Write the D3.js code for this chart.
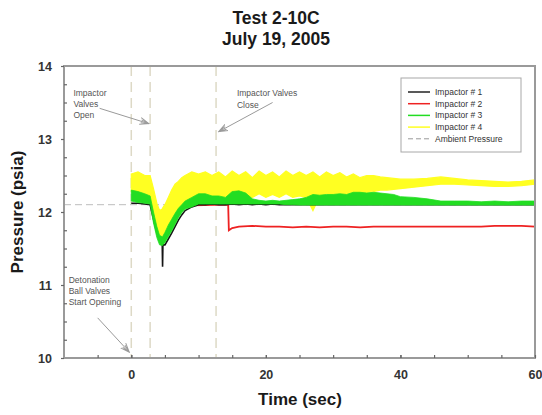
<!DOCTYPE html>
<html><head><meta charset="utf-8">
<script src="https://cdn.jsdelivr.net/npm/d3@7"></script>
<style>
body{margin:0;background:#fff}
svg{display:block}
text{font-family:"Liberation Sans",Arial,Helvetica,sans-serif}
</style>
</head><body>
<svg id="c" width="542" height="415"></svg>
<script>
// ---------- data ----------
const titleLines = ["Test 2-10C", "July 19, 2005"];
const xTitle = "Time (sec)";
const yTitle = "Pressure (psia)";
const xTicks = [0, 20, 40, 60];
const xMinor = [-5, 0, 5, 10, 15, 20, 25, 30, 35, 40, 45, 50, 55];
const yTicks = [10, 11, 12, 13, 14];
const yMinor = [10.25,10.5,10.75,11.25,11.5,11.75,12.25,12.5,12.75,13.25,13.5,13.75];

const time = [0,1,2,2.8,3.3,3.8,4.2,4.6,4.65,4.7,5,5.5,6,6.5,7,7.5,8,
  9,10,11,12,13,14,15,16,17,18,19,20,21,22,23,24,
  25,26,27,28,29,30,31,32,33,34,35,36,37,38,39,40,
  42,44,46,48,50,52,54,56,58,60];

// Impactor #4 (yellow) envelope
const imp4Hi = [12.52,12.55,12.5,12.5,12.32,12.12,12.02,12.04,12.05,12.06,12.1,12.2,12.3,12.38,12.42,12.47,12.5,
  12.55,12.52,12.55,12.5,12.55,12.48,12.56,12.5,12.55,12.47,12.56,12.5,12.55,12.48,12.56,12.5,
  12.55,12.5,12.55,12.48,12.55,12.5,12.54,12.48,12.52,12.47,12.5,12.5,12.48,12.47,12.46,12.45,
  12.45,12.46,12.48,12.46,12.44,12.43,12.42,12.41,12.42,12.44];
const imp4Lo = [12.28,12.25,12.25,12.2,11.95,11.75,11.63,11.6,11.6,11.61,11.65,11.75,11.85,11.95,12.0,12.05,12.1,
  12.15,12.2,12.2,12.2,12.22,12.2,12.24,12.18,12.22,12.2,12.25,12.2,12.24,12.2,12.25,12.2,
  12.22,12.2,12.02,12.22,12.25,12.22,12.25,12.24,12.26,12.25,12.27,12.28,12.3,12.3,12.31,12.32,
  12.34,12.36,12.38,12.38,12.37,12.36,12.35,12.35,12.36,12.38];

// Impactor #3 (green) envelope
const imp3Hi = [12.3,12.28,12.25,12.22,12.0,11.8,11.68,11.66,11.66,11.67,11.72,11.82,11.9,11.98,12.05,12.1,12.15,
  12.2,12.25,12.25,12.22,12.22,12.2,12.28,12.29,12.26,12.18,12.16,12.15,12.16,12.15,12.16,12.17,
  12.18,12.2,12.24,12.23,12.24,12.24,12.25,12.24,12.27,12.27,12.26,12.27,12.26,12.25,12.24,12.21,
  12.2,12.18,12.15,12.15,12.15,12.14,12.15,12.14,12.15,12.15];
const imp3Lo = [12.15,12.13,12.12,12.11,11.85,11.65,11.55,11.54,11.54,11.55,11.58,11.66,11.74,11.83,11.92,11.99,12.04,
  12.07,12.11,12.11,12.11,12.11,12.11,12.11,12.11,12.11,12.11,12.11,12.11,12.11,12.11,12.1,12.1,
  12.095,12.095,12.095,12.095,12.095,12.095,12.095,12.095,12.095,12.095,12.095,12.095,12.095,12.095,12.095,12.095,
  12.095,12.095,12.095,12.095,12.095,12.095,12.095,12.095,12.095,12.095];

// Impactor #1 (black)
const imp1 = [12.12,12.12,12.11,12.1,11.9,11.72,11.6,11.55,11.25,11.55,11.55,11.63,11.71,11.8,11.89,11.96,12.02,
  12.07,12.1,12.1,12.11,12.1,12.1,12.11,12.1,12.11,12.1,12.11,12.1,12.11,12.1,12.1,12.1,
  12.1,12.1,12.1,12.1,12.1,12.1,12.1,12.1,12.1,12.1,12.1,12.1,12.1,12.1,12.1,12.1,
  12.1,12.1,12.1,12.1,12.1,12.1,12.1,12.1,12.1,12.1];

// Impactor #2 (red)
const imp2Time = [9,14.4,14.5,15,16,18,20,22,24,26,28,30,32,34,36,38,40,42,44,46,48,50,52,54,56,58,60];
const imp2 = [12.09,12.1,11.75,11.78,11.8,11.81,11.8,11.8,11.79,11.8,11.79,11.8,11.8,11.79,11.8,11.8,11.8,
  11.8,11.8,11.8,11.8,11.8,11.8,11.81,11.81,11.81,11.8];

const ambient = 12.1;
const eventTimes = [0, 2.8, 12.6];
const legendNames = ["Impactor # 1","Impactor # 2","Impactor # 3","Impactor # 4","Ambient Pressure"];
const legendColors = ["#222222","#ee2222","#22dd22","#ffff22","#999999"];

// annotations: text lines at (time, pressure), arrows from -> to
const notes = [
  {t:-8.6, p:[13.59,13.44,13.29], lines:["Impactor","Valves","Open"], from:[-4.7,13.42], to:[2.6,13.21]},
  {t:15.7, p:[13.59,13.43], lines:["Impactor Valves","Close"], from:[21,13.5], to:[13.0,13.1]},
  {t:-9.3, p:[11.03,10.88,10.73], lines:["Detonation","Ball Valves","Start Opening"], from:[-5.0,10.55], to:[-0.3,10.08]}
];

// ---------- drawing ----------
const svg = d3.select("#c");
const L = 64, R = 535, T = 66, B = 358;
const x = d3.scaleLinear().domain([-10, 60]).range([L, R]);
const y = d3.scaleLinear().domain([10, 14]).range([B, T]);

svg.append("defs").append("clipPath").attr("id","clip")
  .append("rect").attr("x",L).attr("y",T).attr("width",R-L).attr("height",B-T);
svg.select("defs").append("marker").attr("id","arr")
  .attr("viewBox","0 -5 10 10").attr("refX",9).attr("refY",0)
  .attr("markerWidth",10).attr("markerHeight",10).attr("markerUnits","userSpaceOnUse")
  .attr("orient","auto")
  .append("path").attr("d","M0,-3.5L9,0L0,3.5M1,-1.5L9,0L1,1.5").attr("fill","none").attr("stroke","#9a9a9a").attr("stroke-width",1);

// title
svg.append("g").selectAll("text").data(titleLines).join("text")
  .attr("x", 276).attr("y", (d,i)=> 24 + i*21)
  .attr("text-anchor","middle").attr("font-size","17.5px").attr("font-weight","bold").attr("fill","#1a1a1a")
  .text(d=>d);

// reference lines
const plot = svg.append("g").attr("clip-path","url(#clip)");
plot.selectAll("line.ev").data(eventTimes).join("line").attr("class","ev")
  .attr("x1",d=>x(d)).attr("x2",d=>x(d)).attr("y1",T).attr("y2",B)
  .attr("stroke","#ddd9c6").attr("stroke-width",1.5).attr("stroke-dasharray","10,6");
plot.append("line").attr("x1",x(-10)).attr("x2",x(60)).attr("y1",y(ambient)).attr("y2",y(ambient))
  .attr("stroke","#bdbdbd").attr("stroke-width",1).attr("stroke-dasharray","7,4");

// series
const band = (hi, lo) => d3.area().x((d,i)=>x(time[i])).y0((d,i)=>y(lo[i])).y1((d,i)=>y(hi[i]))(time);
plot.append("path").attr("d", band(imp4Hi, imp4Lo)).attr("fill","#ffff22").attr("stroke","#ffff22").attr("stroke-width",1.2);
plot.append("path").attr("d", d3.line().x((d,i)=>x(imp2Time[i])).y(d=>y(d))(imp2))
  .attr("fill","none").attr("stroke","#ee2222").attr("stroke-width",1.8);
plot.append("path").attr("d", d3.line().x((d,i)=>x(time[i])).y(d=>y(d))(imp1))
  .attr("fill","none").attr("stroke","#151515").attr("stroke-width",1.6);
plot.append("path").attr("d", band(imp3Hi, imp3Lo)).attr("fill","#22dd22").attr("stroke","#22dd22").attr("stroke-width",0.8);

// frame
svg.append("rect").attr("x",L).attr("y",T).attr("width",R-L).attr("height",B-T)
  .attr("fill","none").attr("stroke","#9a9a9a").attr("stroke-width",2);

// axes
const gx = svg.append("g").attr("transform",`translate(0,${B})`)
  .call(d3.axisBottom(x).tickValues(xTicks).tickSize(-3).tickPadding(12).tickFormat(d3.format("d")));
svg.append("g").attr("transform",`translate(0,${B})`)
  .call(d3.axisBottom(x).tickValues(xMinor).tickSize(-3).tickFormat(""));
const gy = svg.append("g").attr("transform",`translate(${L},0)`)
  .call(d3.axisLeft(y).tickValues(yTicks).tickSize(3).tickPadding(9).tickFormat(d3.format("d")));
svg.append("g").attr("transform",`translate(${L},0)`)
  .call(d3.axisLeft(y).tickValues(yMinor).tickSize(-3).tickFormat(""));
svg.selectAll(".domain").remove();
svg.selectAll(".tick line").attr("stroke","#666").attr("stroke-width",1.2);
[gx, gy].forEach(g => g.selectAll("text").attr("font-size","12.5px").attr("font-weight","bold").attr("fill","#333")
  .attr("font-family","'Liberation Sans',Arial,sans-serif"));

// axis titles
svg.append("text").attr("x",300).attr("y",405).attr("text-anchor","middle")
  .attr("font-size","17px").attr("font-weight","bold").attr("fill","#1a1a1a").text(xTitle);
svg.append("text").attr("transform","translate(23,212) rotate(-90)").attr("text-anchor","middle")
  .attr("font-size","17px").attr("font-weight","bold").attr("fill","#1a1a1a").text(yTitle);

// annotations
const an = svg.append("g");
notes.forEach(n => {
  n.lines.forEach((s,i) => an.append("text").attr("x",x(n.t)).attr("y",y(n.p[i]))
    .attr("font-size","8.5px").attr("fill","#555").text(s));
  an.append("line").attr("x1",x(n.from[0])).attr("y1",y(n.from[1]))
    .attr("x2",x(n.to[0])).attr("y2",y(n.to[1]))
    .attr("stroke","#9a9a9a").attr("stroke-width",1).attr("marker-end","url(#arr)");
});

// legend
const lg = svg.append("g");
lg.append("rect").attr("x",401).attr("y",78).attr("width",120).attr("height",74)
  .attr("fill","#fff").attr("stroke","#a8a8a8").attr("stroke-width",1);
legendNames.forEach((name,i) => {
  const yy = 92 + i*11.7;
  lg.append("line").attr("x1",408).attr("x2",430).attr("y1",yy).attr("y2",yy)
    .attr("stroke",legendColors[i]).attr("stroke-width", i===4?1:1.5)
    .attr("stroke-dasharray", i===4 ? "5,3" : null);
  lg.append("text").attr("x",435).attr("y",yy+3).attr("font-size","8.5px").attr("fill","#333").text(name);
});
</script>
</body></html>
